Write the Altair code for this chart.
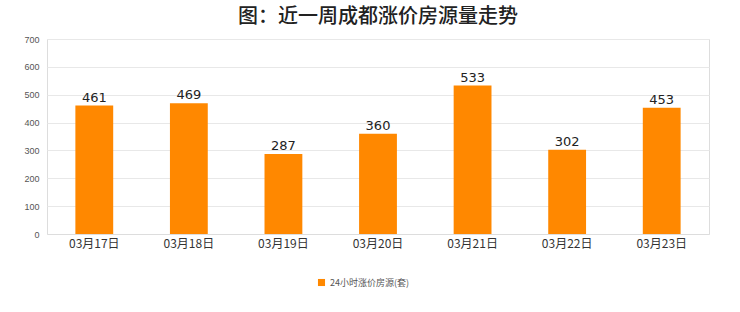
import altair as alt
import pandas as pd

dates = ["03月17日", "03月18日", "03月19日", "03月20日", "03月21日", "03月22日", "03月23日"]
values = [461, 469, 287, 360, 533, 302, 453]
series = "24小时涨价房源(套)"
y_ticks = [0, 100, 200, 300, 400, 500, 600, 700]

df = pd.DataFrame({"date": dates, "value": values, "series": [series] * len(dates)})

FONT = "Noto Sans CJK SC"

base = alt.Chart(df).encode(
    x=alt.X("date:N", sort=dates, title=None,
            scale=alt.Scale(paddingInner=0.6, paddingOuter=0.3),
            axis=alt.Axis(labelAngle=0, labelFontSize=12, labelColor="#333333",
                          labelFont=FONT, domainColor="#dddddd", ticks=False,
                          labelPadding=4)),
    y=alt.Y("value:Q", title=None,
            scale=alt.Scale(domain=[0, 700]),
            axis=alt.Axis(values=y_ticks, labelOverlap=False,
                          labelFontSize=9, labelColor="#555555", gridColor="#e8e8e8",
                          domain=False, ticks=False, labelPadding=8)),
)

bars = base.mark_bar(color="#FF8800").encode(
    color=alt.Color("series:N", scale=alt.Scale(range=["#FF8800"]),
                    legend=alt.Legend(title=None, orient="none", legendX=270, legendY=239,
                                      symbolType="square", symbolSize=50,
                                      labelFontSize=9, labelColor="#555555",
                                      labelFont=FONT)),
)

labels = base.mark_text(dy=-8, fontSize=13, color="#222222", font="DejaVu Sans").encode(
    text=alt.Text("value:Q"),
)

chart = alt.layer(bars, labels).properties(
    width=662, height=195,
    padding={"left": 47, "top": 39, "right": 31, "bottom": 78},
    autosize=alt.AutoSizeParams(type="none"),
    title=alt.TitleParams("图：近一周成都涨价房源量走势", fontSize=20, font=FONT,
                          fontWeight=500, color="#222222", anchor="middle", offset=8),
).configure_view(stroke="#e0e0e0").configure(background="white")

chart.save("out.html", embed_options={"renderer": "svg", "actions": False})
